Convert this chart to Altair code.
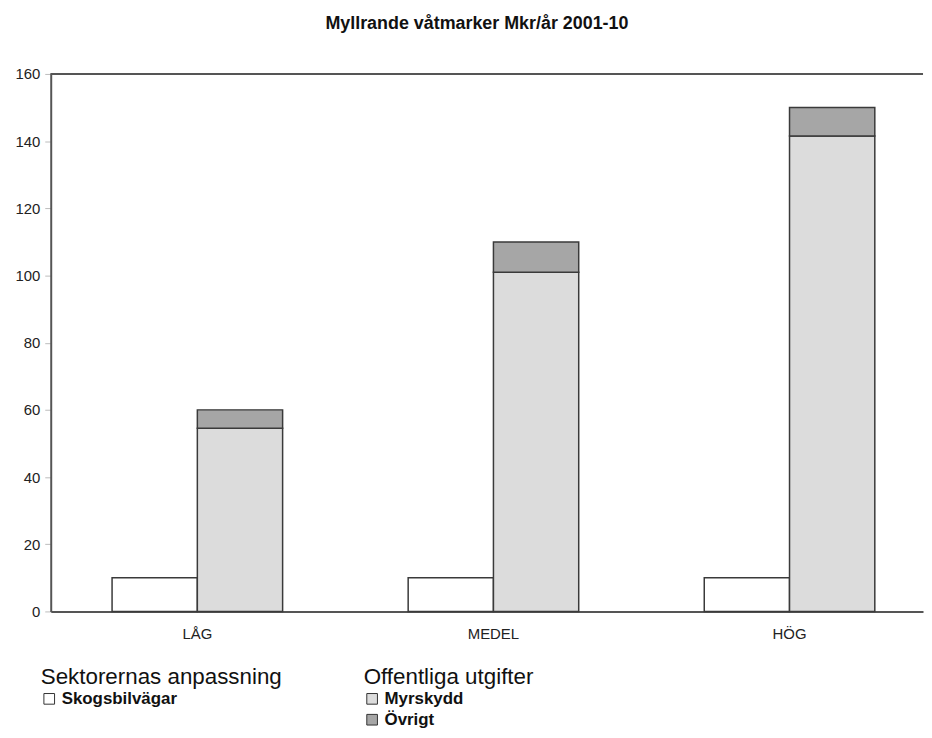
import altair as alt
import pandas as pd

groups = ["LÅG", "MEDEL", "HÖG"]
skogsbilvagar = [10, 10, 10]
myrskydd = [54.5, 101, 141.5]
ovrigt = [5.5, 9, 8.5]

FONT = "Liberation Sans"
W, H = 878, 541

df_a = pd.DataFrame({"grupp": groups, "serie": "Skogsbilvägar",
                     "värde": skogsbilvagar, "sida": "A", "ordning": 0})
df_b = pd.concat([
    pd.DataFrame({"grupp": groups, "serie": "Myrskydd", "värde": myrskydd, "sida": "B", "ordning": 0}),
    pd.DataFrame({"grupp": groups, "serie": "Övrigt", "värde": ovrigt, "sida": "B", "ordning": 1}),
])

x_enc = alt.X("grupp:N", sort=groups,
              scale=alt.Scale(paddingInner=0.424, paddingOuter=0.185, align=0.56),
              axis=alt.Axis(title=None, labelAngle=0, ticks=False, labelPadding=15,
                            labelFont=FONT, labelFontSize=15, labelColor="#222",
                            domainColor="#555", domainWidth=2))
xoff_enc = alt.XOffset("sida:N", scale=alt.Scale(domain=["A", "B"], paddingInner=0, paddingOuter=0))
y_enc = alt.Y("värde:Q", stack="zero",
              scale=alt.Scale(domain=[0, 160], nice=False),
              axis=alt.Axis(title=None, values=list(range(0, 161, 20)), grid=False,
                            tickColor="#bbb", tickSize=6, labelPadding=5,
                            labelFont=FONT, labelFontSize=15, labelColor="#222",
                            domainColor="#555", domainWidth=2))

leg_common = dict(orient="none", direction="vertical", symbolType="square", symbolSize=115,
                  symbolStrokeColor="#333", symbolStrokeWidth=1,
                  titleFont=FONT, titleFontSize=22.5, titleFontWeight="normal", titleColor="#111",
                  titleLimit=400, labelLimit=300,
                  labelFont=FONT, labelFontSize=17, labelFontWeight="bold", labelColor="#111",
                  rowPadding=3, titlePadding=2, labelOffset=4)

bars_a = alt.Chart(df_a).mark_bar(stroke="#3a3a3a", strokeWidth=1.5).encode(
    x=x_enc, xOffset=xoff_enc, y=y_enc,
    color=alt.Color("serie:N", scale=alt.Scale(domain=["Skogsbilvägar"], range=["#ffffff"]),
                    legend=alt.Legend(title="Sektorernas anpassning", legendX=-10, legendY=596, **leg_common)),
)

bars_b = alt.Chart(df_b).mark_bar(stroke="#3a3a3a", strokeWidth=1.5).encode(
    x=x_enc, xOffset=xoff_enc, y=y_enc,
    color=alt.Color("serie:N", scale=alt.Scale(domain=["Myrskydd", "Övrigt"], range=["#dcdcdc", "#a6a6a6"]),
                    legend=alt.Legend(title="Offentliga utgifter", legendX=315, legendY=596, **leg_common)),
    order=alt.Order("ordning:Q"),
)

top_line = alt.Chart(df_a).mark_rule(color="#555", strokeWidth=2).encode(
    x=alt.value(0), x2=alt.value(W), y=alt.value(0))

chart = alt.layer(bars_a, bars_b, top_line).resolve_scale(color="independent").properties(
    width=W, height=H,
    title=alt.TitleParams("Myllrande våtmarker Mkr/år 2001-10", font=FONT, fontSize=18,
                          fontWeight="bold", color="#111", anchor="middle", offset=34, dx=-10),
    padding={"left": 6, "top": 5, "right": 0, "bottom": 5},
).configure_view(stroke=None)

chart.save("out.html", embed_options={"renderer": "svg", "actions": False})
